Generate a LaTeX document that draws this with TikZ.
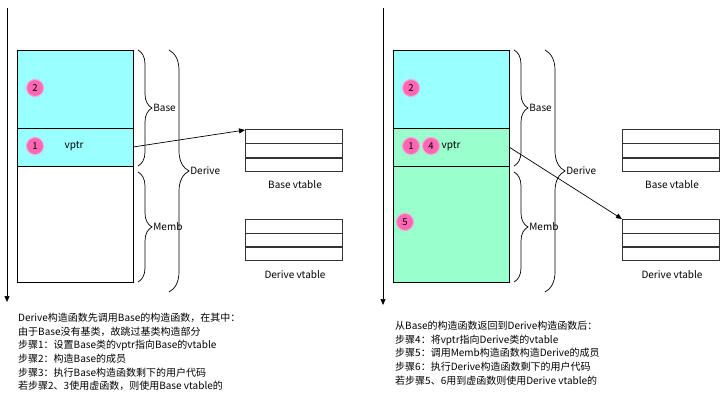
\documentclass[tikz,border=0pt]{standalone}
\usepackage{fontspec}
\setmainfont{Noto Sans CJK SC}
\usetikzlibrary{decorations.pathreplacing,arrows.meta}
\definecolor{cyanf}{HTML}{99FFFF}
\definecolor{mint}{HTML}{99FFCC}
\definecolor{pinkc}{HTML}{FF66B3}
\begin{document}
\begin{tikzpicture}[x=1pt,y=-1pt,
  lbl/.style={font=\fontsize{10}{11}\selectfont,inner sep=0pt},
  num/.style={circle,fill=pinkc,draw=pinkc!60,line width=1pt,minimum size=17pt,inner sep=0pt,font=\fontsize{9.5}{10}\selectfont},
  brs/.style={decorate,decoration={brace,amplitude=14pt,aspect=0.5},line width=0.7pt},
  brl/.style={decorate,decoration={brace,amplitude=20pt,aspect=0.5},line width=0.7pt},
  box/.style={draw=black,line width=0.7pt},
  vt/.style={draw=black!80,line width=1pt},
  txt/.style={font=\fontsize{10}{13.6}\selectfont,align=left,anchor=north west,inner sep=0pt}]
\useasboundingbox (0,0) rectangle (720,401);
% ---------- left panel
\coordinate (ta) at (7,8); \coordinate (tb) at (7,302);
\draw[-{Triangle[length=6pt,width=5pt]},line width=0.7pt] (ta) -- (tb);
\draw[box,fill=cyanf] (17,50) rectangle (133,128);
\draw[box,fill=cyanf] (17,128) rectangle (133,166);
\draw[box,fill=white] (17,166) rectangle (133,282);
\node[num] (c2) at (35,88) {2};
\node[num] (c1) at (35,146) {1};
\node[lbl] (vp) at (74,146) {vptr};
\draw[brs] (138,50) -- (138,166) node[midway,right=15pt,lbl] {Base};
\draw[brs] (138,172) -- (138,282) node[midway,right=15pt,lbl] {Memb};
\draw[brl] (169,50) -- (169,292) node[midway,right=21pt,lbl] {Derive};
\foreach \y in {130,144,157}{\draw[vt] (245,\y) rectangle (342,\y+14);}
\coordinate (bv) at (245,130);
\node[lbl] at (295,185) {Base vtable};
\foreach \y in {219,233,246}{\draw[vt] (245,\y) rectangle (342,\y+14);}
\node[lbl] at (295,275) {Derive vtable};
\coordinate (ps) at (133,147);
\draw[-{Triangle[length=6pt,width=5pt]},line width=0.7pt] (ps) -- (bv);
\node[txt] at (18,313) {Derive构造函数先调用Base的构造函数，在其中：\\由于Base没有基类，故跳过基类构造部分\\步骤1：设置Base类的vptr指向Base的vtable\\步骤2：构造Base的成员\\步骤3：执行Base构造函数剩下的用户代码\\若步骤2、3使用虚函数，则使用Base vtable的};
% ---------- right panel
\coordinate (ra) at (383,8); \coordinate (rb) at (383,305);
\draw[-{Triangle[length=6pt,width=5pt]},line width=0.7pt] (ra) -- (rb);
\draw[box,fill=cyanf] (393,50) rectangle (509,128);
\draw[box,fill=mint] (393,128) rectangle (509,166);
\draw[box,fill=mint] (393,166) rectangle (509,282);
\node[num] (d2) at (411,88) {2};
\node[num] (d1) at (411,146) {1};
\node[num] (d4) at (431,146) {4};
\node[lbl] (vp2) at (451,146) {vptr};
\node[num] (d5) at (405,222) {5};
\draw[brs] (514,50) -- (514,166) node[midway,right=15pt,lbl] {Base};
\draw[brs] (514,172) -- (514,282) node[midway,right=15pt,lbl] {Memb};
\draw[brl] (545,50) -- (545,292) node[midway,right=21pt,lbl] {Derive};
\foreach \y in {130,144,157}{\draw[vt] (622,\y) rectangle (719,\y+14);}
\node[lbl] at (672,185) {Base vtable};
\foreach \y in {219,233,246}{\draw[vt] (622,\y) rectangle (719,\y+14);}
\coordinate (dv) at (622,219);
\node[lbl] at (672,275) {Derive vtable};
\coordinate (ps2) at (509,147);
\draw[-{Triangle[length=6pt,width=5pt]},line width=0.7pt] (ps2) -- (dv);
\node[txt] at (395,321) {从Base的构造函数返回到Derive构造函数后：\\步骤4：将vptr指向Derive类的vtable\\步骤5：调用Memb构造函数构造Derive的成员\\步骤6：执行Derive构造函数剩下的用户代码\\若步骤5、6用到虚函数则使用Derive vtable的};
\end{tikzpicture}
\end{document}
